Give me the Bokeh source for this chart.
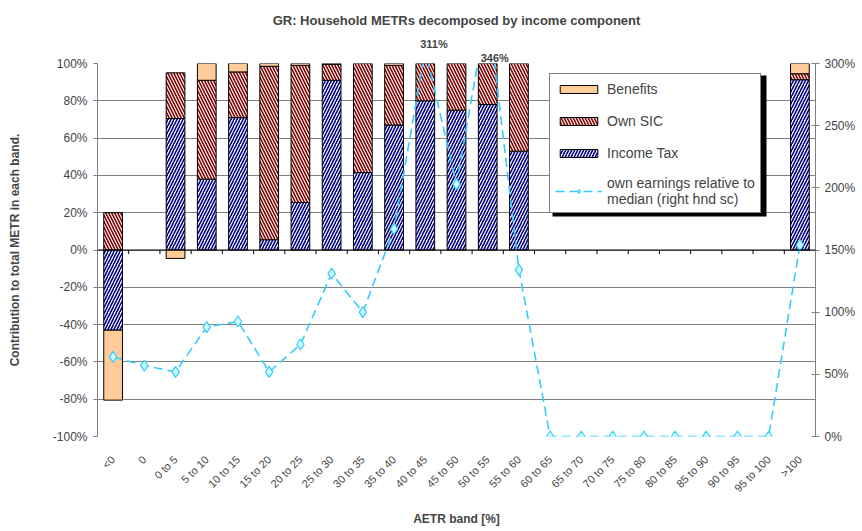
import numpy as np
from math import pi
from bokeh.plotting import figure
from bokeh.models import (Range1d, LinearAxis, FixedTicker, PrintfTickFormatter,
                          Span, Legend, LegendItem, Title, BoxAnnotation)
from bokeh.embed import file_html
from bokeh.resources import INLINE

# ---------------- data ----------------
categories = ["<0", "0", "0 to 5", "5 to 10", "10 to 15", "15 to 20", "20 to 25",
              "25 to 30", "30 to 35", "35 to 40", "40 to 45", "45 to 50", "50 to 55",
              "55 to 60", "60 to 65", "65 to 70", "70 to 75", "75 to 80", "80 to 85",
              "85 to 90", "90 to 95", "95 to 100", ">100"]
income_tax = [-43, 0, 70.5, 38, 71, 5.5, 25.5, 91, 41.5, 67, 80, 75, 78, 53,
              0, 0, 0, 0, 0, 0, 0, 0, 91.3]
own_sic = [20, 0, 24.5, 53, 24.5, 93, 73.5, 8.5, 58.5, 32, 20, 25, 22, 47,
           0, 0, 0, 0, 0, 0, 0, 0, 3.2]
benefits = [-37.5, 0, -4.5, 9, 4.5, 1.5, 1, 0.5, 0, 1, 0, 0, 0, 0,
            0, 0, 0, 0, 0, 0, 0, 0, 5.5]
earnings = [64, 57, 52, 88, 92.5, 52, 74, 131, 100, 167, 311, 203, 346, 134,
            0, 0, 0, 0, 0, 0, 0, 0, 154]
left_ticks = [-100, -80, -60, -40, -20, 0, 20, 40, 60, 80, 100]
right_ticks = [0, 50, 100, 150, 200, 250, 300]

FONT = "Liberation Sans"
n = len(categories)
xs = np.arange(n)
W, H = 858, 529
BL, BR, BT, BB = 97, 43, 63, 92
FRAME_W = W - BL - BR

p = figure(width=W, height=H, x_range=Range1d(-0.5, n - 0.5),
           y_range=Range1d(left_ticks[0], left_ticks[-1]), title=None,
           output_backend="svg", toolbar_location=None,
           min_border_left=BL, min_border_right=BR, min_border_top=BT,
           min_border_bottom=BB)
p.extra_y_ranges = {"right": Range1d(right_ticks[0], right_ticks[-1])}
p.outline_line_color = None
p.background_fill_color = "white"

# labels for values beyond the right scale (placed in the band above the frame);
# the last one found goes nearest to the frame
over = [(i, v) for i, v in enumerate(earnings) if v > right_ticks[-1]]
label_dx = {10: 9, 12: 7}
LBL_PX = 11
for i, v in reversed(over):
    txt = f"{v:.0f}%"
    tw = LBL_PX * (0.556 * (len(txt) - 1) + 0.889)
    cx = (i + 0.5) / n * FRAME_W + label_dx.get(i, 8)
    p.add_layout(Title(text=txt, align="left", offset=cx - tw / 2,
                       text_font=FONT, text_font_size=f"{LBL_PX}px",
                       text_font_style="bold", standoff=0), "above")

TITLE = "GR: Household METRs decomposed by income component"
p.add_layout(Title(text=TITLE, align="center", text_font=FONT,
                   text_font_size="13px", text_font_style="bold", standoff=16),
             "above")

# grid
p.xgrid.grid_line_color = None
p.ygrid.ticker = FixedTicker(ticks=left_ticks)
p.ygrid.grid_line_color = "#808080"
p.ygrid.grid_line_width = 1

# left axis
ya = p.yaxis[0]
ya.ticker = FixedTicker(ticks=left_ticks)
ya.formatter = PrintfTickFormatter(format="%d%%")
ya.axis_label = "Contribution to total METR in each band."
ya.axis_label_text_font = FONT
ya.axis_label_text_font_size = "12px"
ya.axis_label_text_font_style = "bold"
ya.axis_label_standoff = 28
ya.major_label_text_font = FONT
ya.major_label_text_font_size = "12px"
ya.major_label_standoff = 6
ya.major_tick_in = 0
ya.major_tick_out = 4
ya.minor_tick_line_color = None
ya.axis_line_color = "#808080"
ya.major_tick_line_color = "#808080"

# right axis
ra = LinearAxis(y_range_name="right")
ra.ticker = FixedTicker(ticks=right_ticks)
ra.formatter = PrintfTickFormatter(format="%d%%")
ra.major_label_text_font = FONT
ra.major_label_text_font_size = "12px"
ra.major_label_standoff = 5
ra.major_tick_in = 4
ra.major_tick_out = 4
ra.minor_tick_line_color = None
ra.axis_line_color = "#808080"
ra.major_tick_line_color = "#808080"
p.add_layout(ra, "right")

# bottom axis
xa = p.xaxis[0]
xa.ticker = FixedTicker(ticks=list(range(n)))
xa.major_label_overrides = {i: c for i, c in enumerate(categories)}
xa.major_label_orientation = pi / 4
xa.major_label_text_font = FONT
xa.major_label_text_font_size = "11px"
xa.major_label_standoff = 15
xa.axis_line_color = None
xa.major_tick_line_color = None
xa.minor_tick_line_color = None
xa.axis_label = "AETR band [%]"
xa.axis_label_text_font = FONT
xa.axis_label_text_font_size = "12px"
xa.axis_label_text_font_style = "bold"
xa.axis_label_standoff = 11

# stacked bars (positive parts stack up, negative parts stack down)
series = [
    ("Income Tax", income_tax, dict(fill_color="white", hatch_pattern="/",
                                    hatch_color="#000080")),
    ("Own SIC", own_sic, dict(fill_color="white", hatch_pattern="\\",
                              hatch_color="#800000")),
    ("Benefits", benefits, dict(fill_color="#FFCC99")),
]
pos = np.zeros(n)
neg = np.zeros(n)
bar_renderers = {}
for name, vals, style in series:
    v = np.array(vals, dtype=float)
    bottom = np.where(v >= 0, pos, neg)
    top = bottom + v
    pos = np.where(v >= 0, top, pos)
    neg = np.where(v < 0, top, neg)
    m = v != 0
    extra = {}
    if "hatch_pattern" in style:
        extra = dict(hatch_scale=6, hatch_weight=1.6)
    r = p.vbar(x=xs[m], bottom=bottom[m], top=top[m], width=0.6,
               line_color="black", line_width=1, **style, **extra)
    bar_renderers[name] = r

# category axis at zero with boundary ticks
p.add_layout(Span(location=0, dimension="width", line_color="black", line_width=1))
bounds = xs[:-1] + 0.5
p.segment(x0=bounds, y0=np.zeros(n - 1), x1=bounds, y1=np.full(n - 1, -2.2),
          line_color="black", line_width=1)

# earnings line (right scale)
lr = p.line(xs, earnings, y_range_name="right", line_color="#33CCFF",
            line_width=1.6, line_dash="9 5")
sr = p.scatter(xs, earnings, y_range_name="right", marker="diamond", size=11,
               fill_color="#CCFFFF", line_color="#33CCFF", line_width=1.2)

# legend with drop shadow
LEG_X, LEG_Y, LEG_W, LEG_H, SH = 452, 223, 214, 141, 3
p.add_layout(BoxAnnotation(left=LEG_X + SH, right=LEG_X + SH + LEG_W,
                           bottom=LEG_Y - SH, top=LEG_Y - SH + LEG_H,
                           left_units="screen", right_units="screen",
                           top_units="screen", bottom_units="screen",
                           fill_color="black", fill_alpha=1, line_color=None))

legend = Legend(items=[
    LegendItem(label="Benefits", renderers=[bar_renderers["Benefits"]]),
    LegendItem(label="Own SIC", renderers=[bar_renderers["Own SIC"]]),
    LegendItem(label="Income Tax", renderers=[bar_renderers["Income Tax"]]),
    LegendItem(label="own earnings relative to\nmedian (right hnd sc)",
               renderers=[lr, sr]),
], location=(LEG_X, LEG_Y))
legend.label_text_font = FONT
legend.label_text_font_size = "14px"
legend.glyph_width = 47
legend.glyph_height = 10
legend.label_height = 20
legend.spacing = 12
legend.padding = 5
legend.margin = 0
legend.label_standoff = 5
legend.border_line_color = "black"
legend.border_line_width = 1
legend.background_fill_alpha = 1
p.add_layout(legend, "center")

open("out.html", "w").write(file_html(p, INLINE))
